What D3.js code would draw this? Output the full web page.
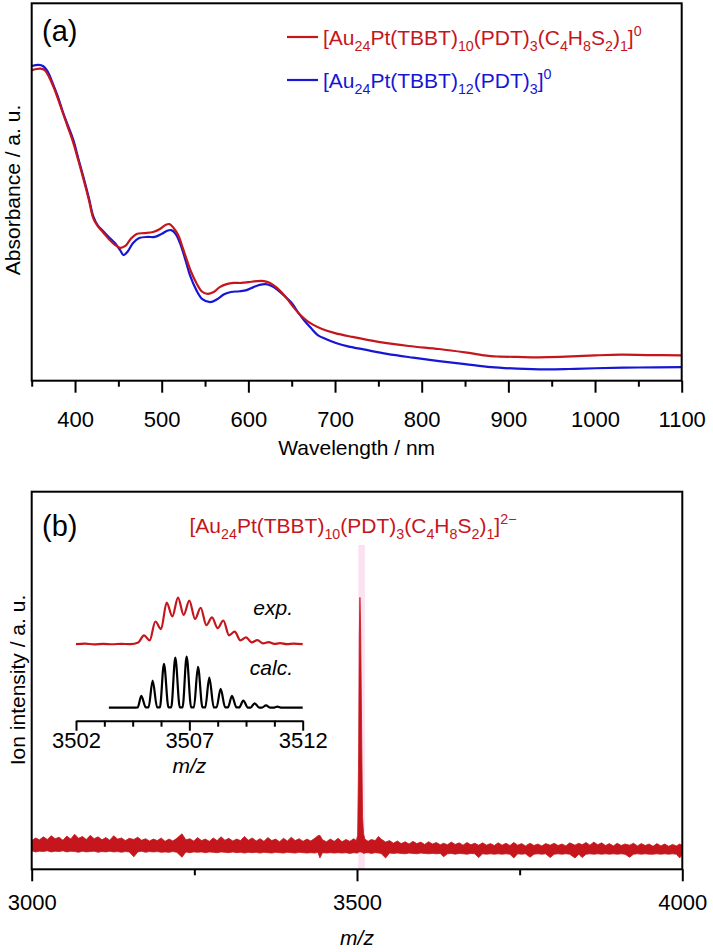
<!DOCTYPE html>
<html><head><meta charset="utf-8">
<script src="https://cdn.jsdelivr.net/npm/d3@7"></script>
<style>
body{margin:0;background:#fff}
svg{display:block}
text{font-family:"Liberation Sans",Arial,Helvetica,sans-serif}
</style>
</head><body>
<svg id="c" width="713" height="952"></svg>
<script>
// ---------------- DATA ----------------
// Panel (a): UV-vis absorbance (a.u.)
const redWl  = [350,360,365,370,375,380,386,392,398,404,410,416,421,426,432,440,446,452,458,464,471,480,490,498,504,509,514,519,524,529,534,540,546,553,560,567,575,583,592,600,610,618,625,632,638,645,652,660,668,675,685,700,720,750,785,820,850,870,880,890,910,935,960,980,1000,1030,1060,1100];
const redAbs = [0.823,0.827,0.823,0.805,0.779,0.749,0.709,0.670,0.630,0.582,0.532,0.479,0.431,0.410,0.394,0.373,0.360,0.352,0.357,0.375,0.389,0.391,0.394,0.402,0.412,0.415,0.404,0.386,0.354,0.320,0.288,0.259,0.237,0.230,0.235,0.248,0.256,0.259,0.259,0.261,0.264,0.264,0.259,0.248,0.235,0.216,0.195,0.174,0.158,0.148,0.137,0.126,0.116,0.103,0.092,0.084,0.075,0.068,0.065,0.064,0.063,0.062,0.063,0.065,0.067,0.069,0.068,0.067];
const blueWl  = [350,358,363,368,375,380,386,392,398,404,410,416,421,426,432,440,446,452,456,461,467,474,484,492,500,506,511,516,521,527,533,540,547,556,564,572,580,590,598,606,613,620,627,634,642,650,658,665,672,680,690,701,715,733,760,790,820,850,880,910,943,970,1000,1050,1100];
const blueAbs = [0.834,0.837,0.834,0.821,0.784,0.754,0.712,0.675,0.638,0.587,0.537,0.484,0.436,0.412,0.397,0.378,0.365,0.346,0.333,0.343,0.365,0.378,0.381,0.381,0.389,0.397,0.399,0.389,0.365,0.323,0.277,0.240,0.216,0.208,0.216,0.229,0.235,0.237,0.240,0.248,0.254,0.256,0.251,0.240,0.224,0.206,0.179,0.158,0.140,0.121,0.110,0.100,0.091,0.083,0.071,0.061,0.052,0.044,0.036,0.032,0.030,0.031,0.033,0.035,0.036];
const seriesNames = ["red", "blue"];
const wlMajorTicks = [400,500,600,700,800,900,1000,1100];
const wlMinorTicks = [350,450,550,650,750,850,950,1050];

// Panel (b): ESI mass spectrum, [m/z, upper envelope, lower envelope] (a.u.)
const msTrace = [
[3000,7.6,4.9],[3006,8.3,4.6],[3012,7.8,4.8],[3018,8.6,4.7],[3024,7.9,4.9],[3030,8.9,4.6],[3036,8.1,4.8],[3042,8.5,4.7],[3048,7.7,4.9],[3054,8.8,4.6],
[3060,8.0,4.8],[3066,9.3,4.7],[3072,8.2,4.5],[3078,8.7,4.8],[3084,7.9,4.6],[3090,9.0,4.7],[3096,8.1,4.8],[3102,8.6,4.5],[3108,7.8,4.7],[3114,8.4,4.6],
[3120,7.7,4.8],[3126,8.9,4.6],[3132,8.0,4.7],[3138,8.3,4.5],[3144,7.6,4.7],[3150,8.2,4.6],[3157,7.9,3.3],[3163,8.5,4.6],[3169,7.7,4.8],[3175,8.1,4.5],
[3181,7.5,4.7],[3187,8.0,4.6],[3193,7.6,4.7],[3199,8.3,4.5],[3205,7.4,4.6],[3211,8.0,4.5],[3217,7.5,4.7],[3223,8.2,4.5],[3231,9.4,3.2],[3237,7.8,4.6],
[3243,8.1,4.4],[3249,7.5,4.6],[3255,8.4,4.5],[3261,7.6,4.6],[3267,8.0,4.4],[3273,7.4,4.6],[3279,8.3,4.5],[3285,7.6,4.4],[3291,8.6,4.6],[3297,7.7,4.5],
[3303,8.2,4.4],[3309,7.5,4.6],[3315,8.0,4.4],[3321,7.6,4.5],[3327,8.7,4.3],[3333,7.7,4.5],[3339,8.3,4.4],[3345,7.5,4.5],[3351,8.1,4.3],[3357,7.4,4.5],
[3363,8.4,4.4],[3369,7.6,4.3],[3375,8.0,4.5],[3381,7.3,4.4],[3387,8.2,4.3],[3393,7.5,4.5],[3399,8.5,4.4],[3405,7.6,4.3],[3411,8.1,4.5],[3417,7.4,4.4],
[3423,8.0,4.3],[3429,7.5,4.4],[3435,8.2,4.3],[3440,8.9,4.5],[3443,9.0,3.0],[3447,7.8,4.4],[3453,7.3,4.3],[3459,8.0,4.4],[3465,7.4,4.3],[3471,8.2,4.4],
[3477,7.3,4.3],[3483,7.9,4.4],[3489,7.4,4.2],[3495,8.1,4.4],[3499,7.6,4.3],[3501,9.0,4.3],[3502.5,30,4.5],[3503.5,62,4.6],[3504.5,72,4.6],[3505.5,65,4.6],
[3506.5,48,4.5],[3507.5,30,4.5],[3508.5,14,4.4],[3510,9.5,4.2],[3512,8.0,4.3],[3517,7.4,4.4],[3522,7.9,4.2],[3528,7.6,4.4],[3533,8.7,4.3],[3537,8.0,4.2],
[3544,7.2,3.0],[3550,7.6,4.3],[3556,6.9,4.2],[3562,7.5,4.3],[3568,6.8,4.2],[3574,7.3,4.1],[3580,6.7,4.3],[3586,7.4,4.2],[3592,6.8,4.1],[3598,7.2,4.3],
[3604,6.6,4.2],[3610,7.3,4.1],[3616,6.7,4.2],[3622,7.1,4.1],[3628,6.5,4.2],[3633,6.9,3.3],[3639,6.5,4.1],[3645,7.2,4.2],[3651,6.6,4.0],[3657,7.0,4.2],
[3663,6.4,4.1],[3669,7.1,4.0],[3675,6.5,4.2],[3681,6.9,4.1],[3687,6.4,3.1],[3693,7.0,4.1],[3699,6.4,4.0],[3705,6.8,4.1],[3711,6.3,4.0],[3717,7.0,4.1],
[3723,6.4,4.0],[3729,6.9,4.1],[3735,6.3,4.0],[3741,7.1,3.0],[3747,6.4,4.1],[3753,6.8,4.0],[3759,6.2,4.1],[3766,6.9,3.2],[3772,6.3,4.0],[3778,6.7,4.1],
[3784,6.2,4.0],[3790,6.8,4.1],[3797,6.4,3.1],[3803,6.9,4.0],[3809,6.3,4.1],[3815,6.7,4.0],[3821,6.2,4.1],[3827,7.0,4.0],[3835,6.4,3.0],[3841,6.9,4.0],
[3846,6.5,3.1],[3852,7.1,4.0],[3858,6.4,4.1],[3864,7.2,4.0],[3870,6.5,4.1],[3876,7.0,4.0],[3882,6.3,4.1],[3888,6.8,4.0],[3894,6.2,4.1],[3900,6.9,4.0],
[3906,6.3,4.1],[3912,6.7,4.0],[3919,6.4,3.2],[3925,6.9,4.0],[3931,6.2,4.1],[3937,6.8,4.0],[3943,6.3,4.1],[3949,6.7,4.0],[3955,6.1,4.0],[3961,6.8,4.1],
[3967,6.2,4.0],[3973,6.7,4.1],[3979,6.1,4.0],[3985,6.6,4.1],[3991,6.2,4.0],[3996,6.7,3.0],[4000,6.3,4.0]
];
const mzMajorTicks = [3000,3500,4000];
const mzMinorTicks = [3250,3750];
const highlightRange = [3502,3512];

// Inset: isotope pattern, [m/z, relative intensity] (peaks and valleys)
const expPattern = [
[3502.0,0.5],[3502.4,1.5],[3502.8,0.3],[3503.2,1.2],[3503.6,0.4],[3504.0,1.3],[3504.4,0.6],[3504.75,4],[3505.0,18],[3505.25,8],
[3505.5,45],[3505.75,30],[3506.0,82],[3506.25,55],[3506.5,92],[3506.75,58],[3507.0,86],[3507.25,50],[3507.5,72],[3507.75,38],
[3508.0,53],[3508.25,32],[3508.5,47],[3508.75,18],[3509.0,25],[3509.25,8],[3509.5,14],[3509.75,4],[3510.0,8.5],[3510.25,2],
[3510.5,4.5],[3510.75,1],[3511.0,2.5],[3511.3,0.5],[3511.6,1.5],[3512.0,0.5]
];
const calcPattern = [
[3503.45,0],[3504.5,0],[3504.72,0.5],[3504.88,23],[3505.08,0.5],[3505.2,0.5],[3505.38,53],[3505.58,0.5],[3505.7,0.5],[3505.88,86],
[3506.08,0.5],[3506.2,0.5],[3506.38,98],[3506.58,0.5],[3506.7,0.5],[3506.88,100],[3507.08,0.5],[3507.2,0.5],[3507.38,80],[3507.58,0.5],
[3507.7,0.5],[3507.88,59],[3508.08,0.5],[3508.2,0.5],[3508.38,37],[3508.58,0.5],[3508.7,0.5],[3508.88,23],[3509.08,0.5],[3509.2,0.5],
[3509.38,14],[3509.58,0.3],[3509.7,0.3],[3509.88,8.5],[3510.08,0.2],[3510.2,0.2],[3510.38,4.5],[3510.58,0],[3510.7,0],[3510.88,2],
[3511.08,0],[3512.0,0]
];
const insetMajorTicks = [3502,3507,3512];
const insetMinorTicks = [3503.25,3504.5,3505.75,3508.25,3509.5,3510.75];

// Labels
const formulaRed  = [["[Au",""],["24","sub"],["Pt(TBBT)",""],["10","sub"],["(PDT)",""],["3","sub"],["(C",""],["4","sub"],["H",""],["8","sub"],["S",""],["2","sub"],[")",""],["1","sub"],["]",""],["0","sup"]];
const formulaBlue = [["[Au",""],["24","sub"],["Pt(TBBT)",""],["12","sub"],["(PDT)",""],["3","sub"],["]",""],["0","sup"]];
const formulaMS   = [["[Au",""],["24","sub"],["Pt(TBBT)",""],["10","sub"],["(PDT)",""],["3","sub"],["(C",""],["4","sub"],["H",""],["8","sub"],["S",""],["2","sub"],[")",""],["1","sub"],["]",""],["2\u2212","sup"]];

// ---------------- STYLE ----------------
const RED = "#c4161c", BLUE = "#1616d4", PINK = "#fbe1f2";
const svg = d3.select("#c");
const FS = 21;

function richText(g, x, y, segs, color, size, anchor) {
  const t = g.append("text").attr("x", x).attr("y", y).attr("fill", color)
    .attr("font-size", size).attr("text-anchor", anchor || "start");
  let off = 0;
  segs.forEach(([s, type]) => {
    let target = type === "sub" ? size * 0.30 : type === "sup" ? -size * 0.42 : 0;
    t.append("tspan").attr("dy", target - off)
      .attr("font-size", type ? size * 0.68 : size).text(s);
    off = target;
  });
  return t;
}

function axis(g, scale, y, majors, minors, fmt, majLen, minLen, pad, fs, keepDomain) {
  const gMin = g.append("g").attr("transform", `translate(0,${y})`)
    .call(d3.axisBottom(scale).tickValues(minors).tickSize(minLen).tickFormat(""));
  gMin.select(".domain").remove();
  const gMaj = g.append("g").attr("transform", `translate(0,${y})`)
    .call(d3.axisBottom(scale).tickValues(majors).tickSize(majLen).tickSizeOuter(0).tickPadding(pad).tickFormat(fmt));
  if (!keepDomain) gMaj.select(".domain").remove();
  g.selectAll(".tick line").attr("stroke", "#000").attr("stroke-width", 2);
  g.selectAll(".domain").attr("stroke", "#000").attr("stroke-width", 2);
  gMaj.selectAll("text").attr("font-size", fs).attr("fill", "#000")
    .attr("font-family", '"Liberation Sans",Arial,sans-serif');
}

// ---------------- PANEL (a) ----------------
const A = {l: 31.7, r: 681.7, t: 3.3, b: 380.7};
const xA = d3.scaleLinear().domain([350, 1100]).range([A.l, A.r]);
const yA = d3.scaleLinear().domain([0, 1]).range([A.b, A.t]);
svg.append("clipPath").attr("id", "clipA").append("rect")
  .attr("x", A.l).attr("y", A.t).attr("width", A.r - A.l).attr("height", A.b - A.t);
const gA = svg.append("g");
const lineA = d3.line().x(d => xA(d[0])).y(d => yA(d[1])).curve(d3.curveCatmullRom.alpha(0.5));
const seriesA = {
  red:  {x: redWl,  y: redAbs,  color: RED},
  blue: {x: blueWl, y: blueAbs, color: BLUE}
};
seriesNames.slice().reverse().forEach(n => {
  const s = seriesA[n];
  gA.append("path").attr("clip-path", "url(#clipA)")
    .datum(s.x.map((v, i) => [v, s.y[i]]))
    .attr("d", lineA).attr("fill", "none").attr("stroke", s.color)
    .attr("stroke-width", 2.2).attr("stroke-linejoin", "round");
});
gA.append("rect").attr("x", A.l).attr("y", A.t).attr("width", A.r - A.l).attr("height", A.b - A.t)
  .attr("fill", "none").attr("stroke", "#000").attr("stroke-width", 2);
axis(gA, xA, A.b, wlMajorTicks, wlMinorTicks, d3.format("d"), 12, 6, 19, 22);
gA.append("text").attr("x", (A.l + A.r) / 2).attr("y", 455).attr("text-anchor", "middle")
  .attr("font-size", FS).text("Wavelength / nm");
gA.append("text").attr("transform", `translate(20,190) rotate(-90)`).attr("text-anchor", "middle")
  .attr("font-size", FS).text("Absorbance / a. u.");
gA.append("text").attr("x", 42).attr("y", 41).attr("font-size", 29).text("(a)");
// legend
const legY = [37, 80];
[["red", formulaRed], ["blue", formulaBlue]].forEach(([n, f], i) => {
  const c = seriesA[n].color;
  gA.append("line").attr("x1", 287).attr("x2", 318).attr("y1", legY[i]).attr("y2", legY[i])
    .attr("stroke", c).attr("stroke-width", 2.2);
  richText(gA, 323, legY[i] + 8, f, c, FS);
});

// ---------------- PANEL (b) ----------------
const B = {l: 31.7, r: 682.3, t: 491.7, b: 869.3};
const xB = d3.scaleLinear().domain([3000, 4000]).range([B.l, B.r]);
const yB = d3.scaleLinear().domain([0, 100]).range([B.b, B.t]);
const gB = svg.append("g");
gB.append("rect").attr("x", xB(highlightRange[0])).attr("y", 545)
  .attr("width", xB(highlightRange[1]) - xB(highlightRange[0])).attr("height", B.b - 545)
  .attr("fill", PINK);
const areaB = d3.area().x(d => xB(d[0])).y0(d => yB(d[2])).y1(d => yB(d[1]));
gB.append("path").datum(msTrace).attr("d", areaB).attr("fill", RED)
  .attr("stroke", RED).attr("stroke-width", 0.8).attr("stroke-linejoin", "round");
gB.append("rect").attr("x", B.l).attr("y", B.t).attr("width", B.r - B.l).attr("height", B.b - B.t)
  .attr("fill", "none").attr("stroke", "#000").attr("stroke-width", 2);
axis(gB, xB, B.b, mzMajorTicks, mzMinorTicks, d3.format("d"), 12, 6, 13, 22);
gB.append("text").attr("x", (B.l + B.r) / 2).attr("y", 945).attr("text-anchor", "middle")
  .attr("font-size", FS).attr("font-style", "italic").text("m/z");
gB.append("text").attr("transform", `translate(25,680) rotate(-90)`).attr("text-anchor", "middle")
  .attr("font-size", FS).text("Ion intensity / a. u.");
gB.append("text").attr("x", 42).attr("y", 536).attr("font-size", 29).text("(b)");
richText(gB, 353, 533, formulaMS, RED, FS, "middle");

// ---------------- INSET ----------------
const I = {l: 76, r: 302.7, axisY: 720.7, base: 707.7};
const xI = d3.scaleLinear().domain([3502, 3512]).range([I.l, I.r]);
const yI = d3.scaleLinear().domain([0, 100]).range([I.base, I.base - 51]);
const expOffset = 124;
const lineI = d3.line().x(d => xI(d[0])).y(d => yI(d[1])).curve(d3.curveMonotoneX);
gB.append("path").datum(expPattern.map(d => [d[0], d[1] + expOffset])).attr("d", lineI)
  .attr("fill", "none").attr("stroke", RED).attr("stroke-width", 2.2).attr("stroke-linejoin", "round");
gB.append("path").datum(calcPattern).attr("d", lineI)
  .attr("fill", "none").attr("stroke", "#000").attr("stroke-width", 2.2).attr("stroke-linejoin", "round");
const gI = gB.append("g");
axis(gI, xI, I.axisY, insetMajorTicks, insetMinorTicks, d3.format("d"), 10, 6, 2, 22, true);
gB.append("text").attr("x", (I.l + I.r) / 2).attr("y", 773).attr("text-anchor", "middle")
  .attr("font-size", FS).attr("font-style", "italic").text("m/z");
gB.append("text").attr("x", 293).attr("y", 615).attr("text-anchor", "end")
  .attr("font-size", FS).attr("font-style", "italic").text("exp.");
gB.append("text").attr("x", 293).attr("y", 675).attr("text-anchor", "end")
  .attr("font-size", FS).attr("font-style", "italic").text("calc.");
</script>
</body></html>
